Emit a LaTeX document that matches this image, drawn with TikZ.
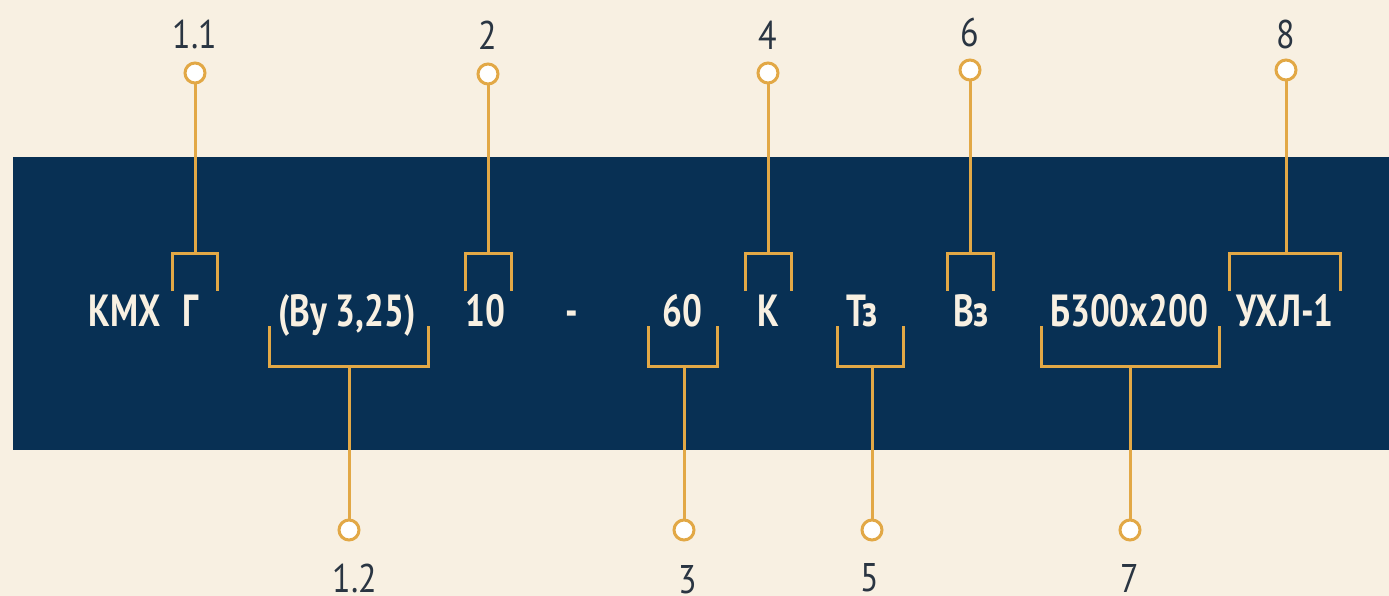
\documentclass[tikz,border=0pt]{standalone}
\usepackage{fontspec}
\setmainfont{PT Sans}
\newfontfamily\codefont[FakeStretch=0.78]{PT Sans}
\newfontfamily\numfont[FakeStretch=0.85]{PT Sans}
\definecolor{bgc}{HTML}{F8F0E2}
\definecolor{navy}{HTML}{083054}
\definecolor{gold}{HTML}{E2A846}
\definecolor{cream}{HTML}{F8F0E2}
\definecolor{numc}{HTML}{2A3542}
\tikzset{
  code/.style={font=\codefont\bfseries\fontsize{45}{45}\selectfont, text=cream, anchor=base, inner sep=0pt},
  num/.style={font=\numfont\fontsize{40}{40}\selectfont, text=numc, inner sep=0pt},
  dot/.style={circle, draw=gold, fill=white, line width=3pt, minimum size=20pt, inner sep=0pt},
  brk/.style={draw=gold, line width=3pt},
}
\begin{document}
\begin{tikzpicture}[x=1pt,y=-1pt]
\fill[bgc] (0,0) rectangle (1389,596);
\useasboundingbox (0,0) rectangle (1389,596);
\fill[navy] (13,157) rectangle (1389,450);

% code texts
\node[code] (t1) at (124.5,326) {КМХ};
\node[code] (t2) at (191,326) {Г};
\node[code] (t3) at (347,326) {(Ву 3,25)};
\node[code] (t4) at (485,326) {10};
\node[code] (t5) at (572,326) {-};
\node[code] (t6) at (682,326) {60};
\node[code] (t7) at (768,326) {К};
\node[code] (t8) at (862,326) {Тз};
\node[code] (t9) at (971,326) {Вз};
\node[code] (t10) at (1129,326) {Б300х200};
\node[code] (t11) at (1285,326) {УХЛ-1};

% top markers
\node[dot] (d11) at (195,73) {};
\node[num] (l11) at (195,35) {1.1};
\node[dot] (d2) at (488,74) {};
\node[num] (l2) at (488,35) {2};
\node[dot] (d4) at (768,73) {};
\node[num] (l4) at (768,35) {4};
\node[dot] (d6) at (970,70) {};
\node[num] (l6) at (970,33) {6};
\node[dot] (d8) at (1286,70) {};
\node[num] (l8) at (1286,35) {8};

% bottom markers
\node[dot] (d12) at (349,530) {};
\node[num] (l12) at (355,578) {1.2};
\node[dot] (d3) at (684,530) {};
\node[num] (l3) at (688,580) {3};
\node[dot] (d5) at (872,530) {};
\node[num] (l5) at (870,578) {5};
\node[dot] (d7) at (1130,530) {};
\node[num] (l7) at (1130,578) {7};

% bracket coordinates
\coordinate (b11) at (195,253);
\coordinate (b2) at (488,253);
\coordinate (b4) at (768,253);
\coordinate (b6) at (970,253);
\coordinate (b8) at (1286,253);
\coordinate (b12) at (349,366);
\coordinate (b3) at (684,366);
\coordinate (b5) at (872,366);
\coordinate (b7) at (1130,366);

% top brackets
\draw[brk] (172,291) -- (172,253) -- (217,253) -- (217,291);
\draw[brk] (465,291) -- (465,253) -- (511,253) -- (511,291);
\draw[brk] (745,291) -- (745,253) -- (791,253) -- (791,291);
\draw[brk] (947,291) -- (947,253) -- (993,253) -- (993,291);
\draw[brk] (1229,291) -- (1229,253) -- (1340,253) -- (1340,291);
% bottom brackets
\draw[brk] (269,326) -- (269,366) -- (428,366) -- (428,326);
\draw[brk] (648,326) -- (648,366) -- (717,366) -- (717,326);
\draw[brk] (837,326) -- (837,366) -- (903,366) -- (903,326);
\draw[brk] (1041,326) -- (1041,366) -- (1219,366) -- (1219,326);

% stems
\draw[brk] (d11) -- (b11);
\draw[brk] (d2) -- (b2);
\draw[brk] (d4) -- (b4);
\draw[brk] (d6) -- (b6);
\draw[brk] (d8) -- (b8);
\draw[brk] (d12) -- (b12);
\draw[brk] (d3) -- (b3);
\draw[brk] (d5) -- (b5);
\draw[brk] (d7) -- (b7);
\end{tikzpicture}
\end{document}
